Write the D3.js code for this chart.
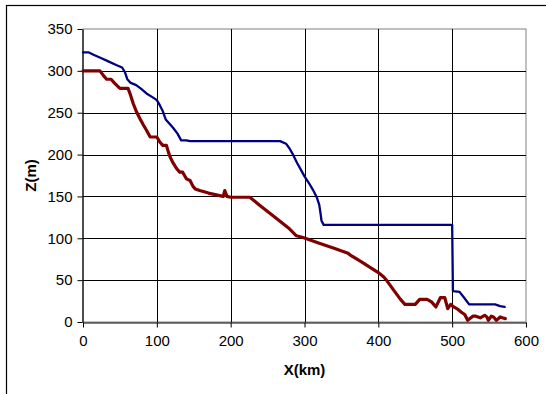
<!DOCTYPE html>
<html>
<head>
<meta charset="utf-8">
<script src="https://cdn.jsdelivr.net/npm/d3@7"></script>
<style>
  html, body { margin: 0; padding: 0; background: #fff; }
  svg { display: block; font-family: "Liberation Sans", Arial, sans-serif; }
</style>
</head>
<body>
<svg id="chart" width="546" height="394"></svg>
<script>
// Upper profile (blue)
const upperX = [0, 8, 15, 25, 35, 45, 53, 57, 60, 64, 72, 78, 86, 95, 100, 104, 108, 112, 116, 122, 128, 133, 140, 145, 160, 200, 250, 267, 275, 280, 285, 290, 295, 300, 306, 312, 317, 320, 322, 323, 326, 350, 400, 450, 500, 501, 510, 517, 523, 540, 558, 565, 571];
const upperZ = [322, 322, 319, 315, 311, 307, 304, 298, 290, 286, 283, 279, 273, 268, 265, 259, 252, 242, 238, 232, 225, 217, 217, 216, 216, 216, 216, 216, 213, 207, 199, 190, 182, 174, 166, 157, 148, 140, 128, 121, 116, 116, 116, 116, 116, 37, 36, 28, 21, 21, 21, 19, 18];

// Lower profile (dark red)
const lowerX = [0, 23, 28, 32, 38, 43, 50, 61, 64, 68, 72, 77, 82, 86, 91, 100, 104, 108, 113, 116, 118, 122, 127, 131, 135, 140, 145, 149, 152, 158, 170, 185, 190, 192, 195, 200, 226, 240, 260, 280, 289, 298, 320, 340, 359, 362, 375, 400, 407, 411, 420, 430, 436, 450, 456, 466, 472, 478, 484, 490, 494, 498, 502, 508, 512, 517, 521, 528, 532, 538, 544, 547, 549, 553, 556, 560, 565, 568, 572];
const lowerZ = [300, 300, 294, 290, 290, 285, 279, 279, 272, 261, 252, 243, 235, 229, 221, 221, 215, 211, 211, 202, 197, 190, 183, 179, 179, 171, 169, 162, 159, 157, 154, 151, 150, 157, 150, 149, 149, 139, 125, 111, 103, 101, 94, 88, 82, 80, 73, 59, 54, 50, 39, 27, 21, 21, 27, 27, 24, 18, 29, 29, 16, 21, 18, 15, 12, 9, 2, 7, 7, 5, 8, 6, 2, 7, 6, 2, 6, 5, 4];

const xTicks = [0, 100, 200, 300, 400, 500, 600];
const yTicks = [0, 50, 100, 150, 200, 250, 300, 350];
const xTitle = "X(km)";
const yTitle = "Z(m)";

const svg = d3.select("#chart");
const plot = { left: 83, right: 526, top: 29, bottom: 322 };

const x = d3.scaleLinear().domain([0, 600]).range([plot.left, plot.right]);
const y = d3.scaleLinear().domain([0, 350]).range([plot.bottom, plot.top]);

// Outer chart frame
svg.append("rect")
  .attr("x", 6.5).attr("y", 5.5)
  .attr("width", 600).attr("height", 500)
  .attr("fill", "none").attr("stroke", "#000").attr("stroke-width", 1.2);

// Plot area border (top/right)
svg.append("rect")
  .attr("x", plot.left).attr("y", plot.top)
  .attr("width", plot.right - plot.left).attr("height", plot.bottom - plot.top)
  .attr("fill", "none").attr("stroke", "#808080").attr("stroke-width", 1);

// Gridlines
svg.append("g").selectAll("line")
  .data(yTicks.filter(d => d > 0 && d < 350))
  .join("line")
  .attr("x1", plot.left).attr("x2", plot.right)
  .attr("y1", d => Math.round(y(d)) + 0.5).attr("y2", d => Math.round(y(d)) + 0.5)
  .attr("stroke", "#000").attr("stroke-width", 1);

svg.append("g").selectAll("line")
  .data(xTicks.filter(d => d > 0 && d < 600))
  .join("line")
  .attr("x1", d => Math.round(x(d)) + 0.5).attr("x2", d => Math.round(x(d)) + 0.5)
  .attr("y1", plot.top).attr("y2", plot.bottom)
  .attr("stroke", "#000").attr("stroke-width", 1);

// Axes
const xAxis = d3.axisBottom(x).tickValues(xTicks).tickSizeInner(5).tickSizeOuter(0).tickPadding(8);
const yAxis = d3.axisLeft(y).tickValues(yTicks).tickSizeInner(5).tickSizeOuter(0).tickPadding(5);

const gx = svg.append("g").attr("transform", `translate(0,${plot.bottom + 0.5})`).call(xAxis);
const gy = svg.append("g").attr("transform", `translate(${plot.left - 0.5},0)`).call(yAxis);

[gx, gy].forEach(g => {
  g.select(".domain").attr("stroke", "#000").attr("stroke-width", 1.2);
  g.selectAll(".tick line").attr("stroke", "#000");
  g.selectAll(".tick text")
    .attr("fill", "#000")
    .style("font-family", '"Liberation Sans", Arial, sans-serif')
    .style("font-size", "15px");
});

// Series lines
const line = d3.line().x(d => x(d[0])).y(d => y(d[1]));

svg.append("path")
  .datum(upperX.map((v, i) => [v, upperZ[i]]))
  .attr("d", line)
  .attr("fill", "none").attr("stroke", "#000080")
  .attr("stroke-width", 2.3).attr("stroke-linejoin", "round").attr("stroke-linecap", "round");

svg.append("path")
  .datum(lowerX.map((v, i) => [v, lowerZ[i]]))
  .attr("d", line)
  .attr("fill", "none").attr("stroke", "#800000")
  .attr("stroke-width", 3.2).attr("stroke-linejoin", "round").attr("stroke-linecap", "round");

// Axis titles
svg.append("text")
  .attr("x", (plot.left + plot.right) / 2).attr("y", 375)
  .attr("text-anchor", "middle")
  .style("font-size", "15px").style("font-weight", "bold")
  .text(xTitle);

svg.append("text")
  .attr("transform", `translate(36,${(plot.top + plot.bottom) / 2}) rotate(-90)`)
  .attr("text-anchor", "middle")
  .style("font-size", "15px").style("font-weight", "bold")
  .text(yTitle);
</script>
</body>
</html>
